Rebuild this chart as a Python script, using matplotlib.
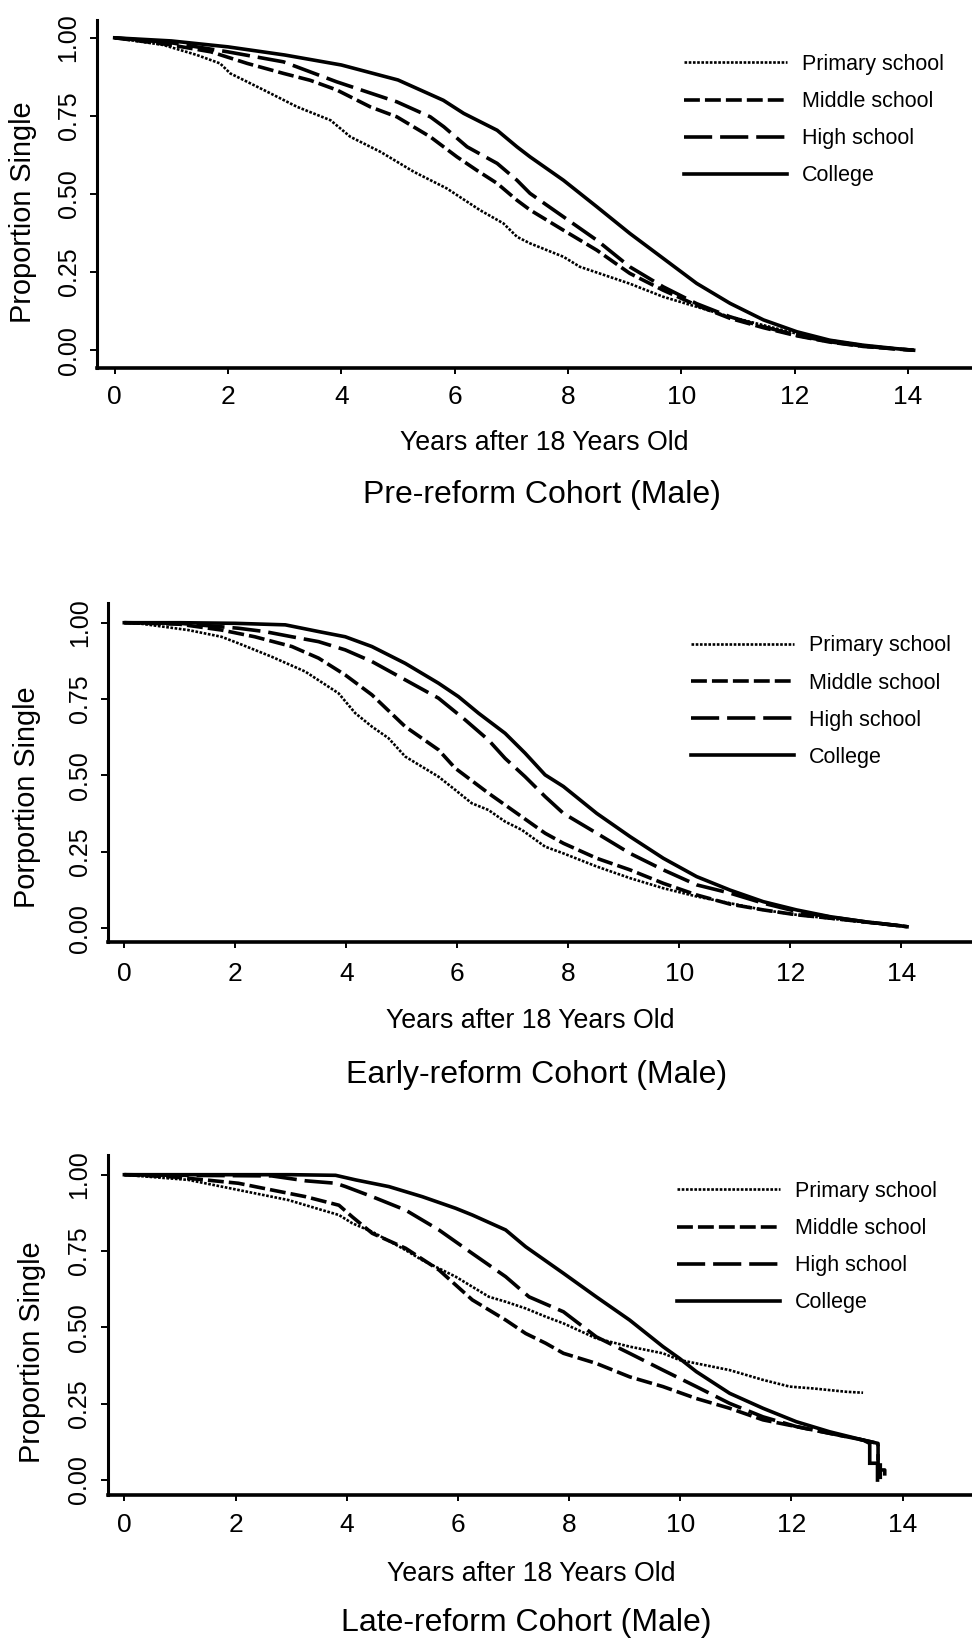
import matplotlib.pyplot as plt
from matplotlib.ticker import FormatStrFormatter

plt.rcParams["font.family"] = ["Liberation Sans", "DejaVu Sans"]

LEVELS = ["Primary school", "Middle school", "High school", "College"]
TITLES = ["Pre-reform Cohort (Male)", "Early-reform Cohort (Male)",
          "Late-reform Cohort (Male)"]
YLABELS = ["Proportion Single", "Porportion Single", "Proportion Single"]
XLABEL = "Years after 18 Years Old"
XTICKS = [0, 2, 4, 6, 8, 10, 12, 14]
YTICKS = [0.0, 0.25, 0.5, 0.75, 1.0]

# pre-reform cohort, points
PRE_X_PRIMARY = [0, 0.86, 1.45, 1.86, 2.04, 2.63, 3.22, 3.81, 4.16, 4.69,
                 5.28, 5.86, 6.45, 6.86, 7.1, 7.33, 7.92, 8.21, 9.09, 9.68,
                 10.27, 10.86, 11.45, 12.04, 12.62, 13.21, 13.79, 14.1]
PRE_PRIMARY = [1.0, 0.977, 0.945, 0.918, 0.886, 0.833, 0.779, 0.736, 0.683,
               0.635, 0.571, 0.518, 0.448, 0.406, 0.363, 0.342, 0.299, 0.267,
               0.213, 0.171, 0.139, 0.107, 0.08, 0.053, 0.032, 0.016, 0.005,
               0.0]
PRE_X_MIDDLE = [0, 1, 1.7, 2.34, 2.98, 3.45, 3.92, 4.51, 4.98, 5.57, 6.04,
                6.39, 6.75, 7.1, 7.33, 7.92, 8.51, 9.09, 9.68, 10.27, 10.86,
                11.45, 12.04, 12.62, 13.21, 13.79, 14.1]
PRE_MIDDLE = [1.0, 0.977, 0.955, 0.918, 0.886, 0.864, 0.833, 0.779, 0.747,
              0.683, 0.619, 0.576, 0.534, 0.48, 0.449, 0.384, 0.32, 0.246,
              0.192, 0.144, 0.102, 0.072, 0.046, 0.026, 0.012, 0.004, 0.0]
PRE_X_HIGH = [0, 1, 2, 2.98, 3.92, 4.98, 5.57, 5.81, 6.22, 6.75, 7.1, 7.33,
              7.92, 8.51, 9.09, 9.68, 10.27, 10.86, 11.45, 12.04, 12.62,
              13.21, 13.79, 14.1]
PRE_HIGH = [1.0, 0.984, 0.955, 0.923, 0.859, 0.795, 0.747, 0.715, 0.651,
            0.598, 0.544, 0.502, 0.427, 0.352, 0.267, 0.203, 0.149, 0.107,
            0.075, 0.048, 0.027, 0.013, 0.004, 0.0]
PRE_X_COLLEGE = [0, 1, 2, 3, 4, 5, 5.8, 6.16, 6.75, 7.1, 7.33, 7.92, 8.51,
                 9.09, 9.68, 10.27, 10.86, 11.45, 12.04, 12.62, 13.21, 13.79,
                 14.1]
PRE_COLLEGE = [1.0, 0.99, 0.971, 0.945, 0.913, 0.865, 0.80, 0.758, 0.704,
               0.651, 0.619, 0.544, 0.459, 0.374, 0.294, 0.214, 0.15, 0.097,
               0.059, 0.032, 0.016, 0.005, 0.0]

# early-reform cohort
EARLY_X_PRIMARY = [0, 0.25, 1.15, 1.75, 2.05, 2.65, 3.26, 3.86, 4.16, 4.46,
                   4.76, 5.06, 5.36, 5.66, 5.96, 6.26, 6.56, 6.86, 7.16, 7.58,
                   7.91, 8.51, 9.11, 9.71, 10.31, 10.91, 11.51, 12.11, 12.71,
                   13.31, 13.98, 14.1]
EARLY_PRIMARY = [1.0, 0.998, 0.976, 0.954, 0.933, 0.889, 0.84, 0.769, 0.704,
                 0.66, 0.622, 0.562, 0.529, 0.496, 0.453, 0.409, 0.387, 0.349,
                 0.322, 0.267, 0.245, 0.202, 0.164, 0.131, 0.104, 0.082, 0.06,
                 0.044, 0.032, 0.02, 0.008, 0.005]
EARLY_X_MIDDLE = [0, 1, 1.75, 2.35, 3.02, 3.5, 3.98, 4.46, 5.06, 5.66, 5.96,
                  6.56, 7.16, 7.58, 7.91, 8.51, 9.11, 9.71, 10.31, 10.91,
                  11.51, 12.11, 12.71, 13.31, 13.98, 14.1]
EARLY_MIDDLE = [1.0, 0.995, 0.976, 0.954, 0.922, 0.884, 0.829, 0.764, 0.66,
                0.584, 0.524, 0.442, 0.365, 0.311, 0.278, 0.229, 0.191, 0.147,
                0.109, 0.079, 0.06, 0.044, 0.033, 0.021, 0.008, 0.005]
EARLY_X_HIGH = [0, 1, 2.05, 2.53, 3.02, 3.5, 3.98, 4.46, 5.06, 5.66, 6.14,
                6.56, 6.86, 7.22, 7.58, 7.91, 8.51, 9.11, 9.71, 10.31, 10.91,
                11.51, 12.11, 12.71, 13.31, 13.98, 14.1]
EARLY_HIGH = [1.0, 0.998, 0.982, 0.971, 0.954, 0.938, 0.911, 0.873, 0.813,
              0.753, 0.682, 0.616, 0.556, 0.496, 0.431, 0.376, 0.311, 0.245,
              0.191, 0.142, 0.115, 0.082, 0.055, 0.037, 0.022, 0.008, 0.005]
EARLY_X_COLLEGE = [0, 1, 2, 2.9, 3.5, 3.98, 4.46, 5.06, 5.66, 6.02, 6.38,
                   6.86, 7.22, 7.58, 7.91, 8.51, 9.11, 9.71, 10.31, 10.91,
                   11.51, 12.11, 12.71, 13.31, 13.98, 14.1]
EARLY_COLLEGE = [1.0, 1.0, 0.998, 0.993, 0.971, 0.954, 0.922, 0.867, 0.802,
                 0.758, 0.704, 0.638, 0.573, 0.502, 0.464, 0.376, 0.30, 0.229,
                 0.169, 0.125, 0.087, 0.06, 0.038, 0.022, 0.008, 0.005]

# late-reform cohort (ragged tail after 13 years)
LATE_X_PRIMARY = [0, 0.25, 1.15, 1.75, 2.35, 2.95, 3.56, 3.86, 4.1, 4.46,
                  5.06, 5.36, 5.66, 5.96, 6.26, 6.56, 6.86, 7.22, 7.58, 7.9,
                  8.49, 9.09, 9.69, 9.99, 10.29, 10.89, 11.49, 11.97, 12.39,
                  12.99, 13.29]
LATE_PRIMARY = [1.0, 0.996, 0.983, 0.961, 0.939, 0.917, 0.884, 0.868, 0.841,
                0.813, 0.753, 0.72, 0.693, 0.666, 0.633, 0.60, 0.584, 0.562,
                0.535, 0.513, 0.464, 0.437, 0.415, 0.393, 0.382, 0.36, 0.328,
                0.306, 0.30, 0.289, 0.286]
LATE_X_MIDDLE = [0, 0.85, 1.45, 2.05, 2.65, 3.26, 3.86, 4.1, 4.46, 5.06,
                 5.66, 6.26, 6.86, 7.22, 7.58, 7.9, 8.49, 9.09, 9.69, 10.29,
                 10.89, 11.49, 12.09, 12.69, 13.29, 13.56, 13.56, 13.6, 13.6]
LATE_MIDDLE = [1.0, 0.993, 0.983, 0.972, 0.95, 0.928, 0.90, 0.862, 0.808,
               0.759, 0.688, 0.59, 0.524, 0.48, 0.448, 0.415, 0.382, 0.338,
               0.306, 0.267, 0.235, 0.197, 0.175, 0.153, 0.131, 0.12, 0.06,
               0.06, 0.0]
LATE_X_HIGH = [0, 1, 2.65, 3.26, 3.8, 3.98, 4.46, 5.06, 5.66, 6.26, 6.86,
               7.28, 7.9, 8.49, 9.09, 9.69, 10.29, 10.89, 11.49, 12.09, 12.69,
               13.29, 13.56, 13.56, 13.68, 13.68]
LATE_HIGH = [1.0, 0.998, 0.996, 0.98, 0.972, 0.961, 0.928, 0.884, 0.819,
             0.742, 0.666, 0.60, 0.551, 0.469, 0.415, 0.36, 0.306, 0.251,
             0.207, 0.175, 0.153, 0.131, 0.12, 0.033, 0.033, 0.0]
LATE_X_COLLEGE = [0, 1, 2, 3, 3.8, 4.16, 4.76, 5.36, 5.96, 6.26, 6.86, 7.22,
                  7.9, 8.49, 9.09, 9.69, 9.99, 10.29, 10.89, 11.49, 12.09,
                  12.69, 13.29, 13.41, 13.41, 13.55, 13.55]
LATE_COLLEGE = [1.0, 1.0, 1.0, 1.0, 0.998, 0.983, 0.961, 0.928, 0.89, 0.868,
                0.819, 0.764, 0.677, 0.60, 0.524, 0.437, 0.398, 0.355, 0.284,
                0.235, 0.191, 0.158, 0.131, 0.12, 0.055, 0.055, 0.0]

PANELS = [
    [(PRE_X_PRIMARY, PRE_PRIMARY), (PRE_X_MIDDLE, PRE_MIDDLE),
     (PRE_X_HIGH, PRE_HIGH), (PRE_X_COLLEGE, PRE_COLLEGE)],
    [(EARLY_X_PRIMARY, EARLY_PRIMARY), (EARLY_X_MIDDLE, EARLY_MIDDLE),
     (EARLY_X_HIGH, EARLY_HIGH), (EARLY_X_COLLEGE, EARLY_COLLEGE)],
    [(LATE_X_PRIMARY, LATE_PRIMARY), (LATE_X_MIDDLE, LATE_MIDDLE),
     (LATE_X_HIGH, LATE_HIGH), (LATE_X_COLLEGE, LATE_COLLEGE)],
]

STYLES = [
    dict(lw=1.9, ls=(0, (1.0, 0.6))),
    dict(lw=2.6, ls=(0, (4.4, 1.4))),
    dict(lw=2.6, ls=(0, (7.8, 2.2))),
    dict(lw=2.6, ls="-"),
]

W, H = 972, 1641
# layout in pixels: axes box, x/y limits, label spots, legend anchor
LAYOUT = [
    dict(box=(97, 20, 972, 367.7), xlim=(-0.312, 15.13), ylim=(-0.056, 1.057),
         ylab_x=23, ylab_frac=0.446, xlab=(544, 443), title=(542, 495),
         leg=(684, 54), xpad=8.4),
    dict(box=(108.3, 603, 972, 942.3), xlim=(-0.288, 15.27),
         ylim=(-0.046, 1.0645), ylab_x=27, ylab_frac=0.427, xlab=(530, 1021),
         title=(537, 1075), leg=(691, 635.5), xpad=9.6),
    dict(box=(107.7, 1155, 972, 1495), xlim=(-0.3, 15.25),
         ylim=(-0.049, 1.0645), ylab_x=31.6, ylab_frac=0.421,
         xlab=(531, 1574), title=(526, 1623), leg=(677, 1181), xpad=8.9),
]

fig = plt.figure(figsize=(W / 100, H / 100), dpi=100)

for series, lay, title, ylab in zip(PANELS, LAYOUT, TITLES, YLABELS):
    x0, y0, x1, y1 = lay["box"]
    ax = fig.add_axes([x0 / W, 1 - y1 / H, (x1 - x0) / W, (y1 - y0) / H])
    for (xs, ys), st, lab in zip(series, STYLES, LEVELS):
        ax.plot(xs, ys, color="black", lw=st["lw"], ls=st["ls"], label=lab,
                solid_joinstyle="miter")
    ax.set_xlim(*lay["xlim"])
    ax.set_ylim(*lay["ylim"])
    ax.set_xticks(XTICKS)
    ax.set_yticks(YTICKS)
    ax.yaxis.set_major_formatter(FormatStrFormatter("%.2f"))
    for side in ("top", "right"):
        ax.spines[side].set_visible(False)
    ax.spines["left"].set_linewidth(2.2)
    ax.spines["bottom"].set_linewidth(2.6)
    ax.tick_params(axis="x", length=4.3, width=1.4, pad=lay["xpad"],
                   labelsize=19)
    ax.tick_params(axis="y", length=5, width=1.4, pad=6.8, labelsize=18,
                   labelrotation=90)
    for t in ax.get_yticklabels():
        t.set_va("center")
    ax.set_ylabel(ylab, fontsize=20.8)
    ax.yaxis.set_label_coords((lay["ylab_x"] - x0) / (x1 - x0),
                              lay["ylab_frac"])
    ax.yaxis.label.set_va("center")
    fig.text(lay["xlab"][0] / W, 1 - lay["xlab"][1] / H, XLABEL,
             ha="center", va="center", fontsize=19.3)
    fig.text(lay["title"][0] / W, 1 - lay["title"][1] / H, title,
             ha="center", va="center", fontsize=23)
    ax.legend(loc="upper left", frameon=False, fontsize=15.5,
              bbox_to_anchor=(lay["leg"][0] / W, 1 - lay["leg"][1] / H),
              bbox_transform=fig.transFigure, borderpad=0, borderaxespad=0,
              handlelength=4.8, handletextpad=0.67, labelspacing=0.75)

fig.savefig("out.png", dpi=100)
